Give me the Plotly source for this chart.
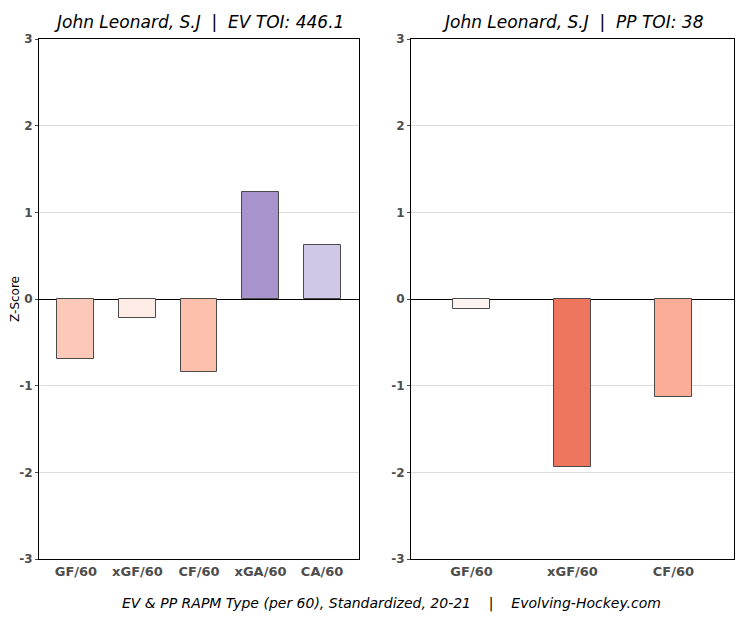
import plotly.graph_objects as go

ev_cats = ["GF/60", "xGF/60", "CF/60", "xGA/60", "CA/60"]
ev_vals = [-0.69, -0.22, -0.84, 1.24, 0.62]
ev_colors = ["#fcc9b9", "#fdebe6", "#fcc0ad", "#a794cd", "#d0c8e6"]

pp_cats = ["GF/60", "xGF/60", "CF/60"]
pp_vals = [-0.11, -1.94, -1.13]
pp_colors = ["#fdf3f1", "#ee765e", "#fbad98"]

ev_title = "John Leonard, S.J  |  EV TOI: 446.1"
pp_title = "John Leonard, S.J  |  PP TOI: 38"
caption = "EV & PP RAPM Type (per 60), Standardized, 20-21    |    Evolving-Hockey.com"
y_ticks = [-3, -2, -1, 0, 1, 2, 3]
y_ticktext = ["-3", "-2", "-1", "0", "1", "2", "3"]

# page has an 8px body margin; figure sized to fit inside the 750x618 window
OFF = 8
W, H = 750 - 2 * OFF, 618 - OFF


def px(sx):
    return (sx - OFF) / W


def py(sy):
    return 1 - (sy - OFF) / H


lx0, lx1 = px(39), px(359)
rx0, rx1 = px(411), px(734)
y0, y1 = py(559), py(39)

fig = go.Figure()
fig.add_trace(go.Bar(x=ev_cats, y=ev_vals, marker=dict(color=ev_colors, line=dict(color="#4a4a4a", width=1)),
                     width=0.6, xaxis="x", yaxis="y", showlegend=False))
fig.add_trace(go.Bar(x=pp_cats, y=pp_vals, marker=dict(color=pp_colors, line=dict(color="#4a4a4a", width=1)),
                     width=0.375, xaxis="x2", yaxis="y2", showlegend=False))

font = "DejaVu Sans"
xcommon = dict(showline=True, linecolor="black", linewidth=1, mirror=True, ticks="", automargin=False,
               tickfont=dict(family=font, size=13, color="#4d4d4d", weight="bold"), showgrid=False,
               fixedrange=True)
ycommon = dict(range=[-3, 3], tickvals=y_ticks, ticktext=y_ticktext, showline=True, linecolor="black",
               linewidth=1, mirror=True, automargin=False,
               ticks="outside", ticklen=3, tickcolor="#4d4d4d",
               tickfont=dict(family=font, size=12, color="#4d4d4d", weight="bold"),
               showgrid=True, gridcolor="#dcdcdc", gridwidth=1,
               zeroline=True, zerolinecolor="black", zerolinewidth=1, domain=[y0, y1])

fig.update_layout(
    width=W, height=H, margin=dict(l=0, r=0, t=0, b=0),
    paper_bgcolor="white", plot_bgcolor="white", bargap=0,
    xaxis=dict(domain=[lx0, lx1], range=[-0.6, 4.6], anchor="y", **xcommon),
    xaxis2=dict(domain=[rx0, rx1], range=[-0.6, 2.6], anchor="y2", **xcommon),
    yaxis=dict(anchor="x", title=dict(text="Z-Score", font=dict(family=font, size=12, color="black"), standoff=6), **ycommon),
    yaxis2=dict(anchor="x2", **ycommon),
    annotations=[
        dict(text=ev_title, xref="paper", yref="paper", x=(lx0 + lx1) / 2, y=py(22), showarrow=False,
             font=dict(family=font, size=17, color="black", style="italic"), xanchor="center", yanchor="middle"),
        dict(text=pp_title, xref="paper", yref="paper", x=(rx0 + rx1) / 2, y=py(22), showarrow=False,
             font=dict(family=font, size=17, color="black", style="italic"), xanchor="center", yanchor="middle"),
        dict(text=caption, xref="paper", yref="paper", x=px(391), y=py(603), showarrow=False,
             font=dict(family=font, size=14, color="black", style="italic"), xanchor="center", yanchor="middle"),
    ],
)

fig.write_html("out.html")
